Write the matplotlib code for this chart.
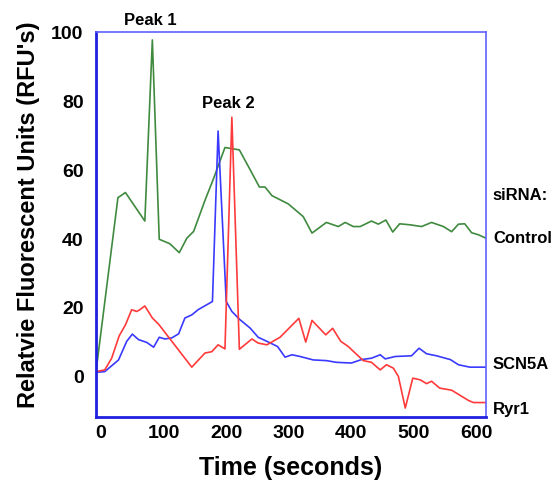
import numpy as np
import matplotlib
matplotlib.use("Agg")
import matplotlib.pyplot as plt

plt.rcParams['font.family'] = ['Liberation Sans', 'DejaVu Sans']
plt.rcParams['font.weight'] = 'bold'

# Control (green)
t_control = [-8, 27, 39, 70, 82, 93, 110, 125, 137, 148, 166, 179, 198, 221, 238, 253, 262, 273,
             299, 323, 337, 360, 379, 390, 403, 414, 432, 443, 455, 466, 477, 494, 512, 528,
             547, 560, 571, 581, 592, 603, 615]
control = [1.2, 51.8, 53.3, 45, 97.7, 39.7, 38.4, 35.8, 40, 42, 51, 57, 66.4, 65.7, 60, 54.9, 54.9, 52.4,
           50, 46.3, 41.5, 44.6, 43.4, 44.6, 43.4, 43.4, 45, 44.1, 45.3, 41.8, 44.2, 43.9, 43.4, 44.6,
           43.4, 41.9, 44.1, 44.2, 41.6, 41, 40]

# SCN5A (blue)
t_scn5a = [-8, 6, 28, 41, 50, 60, 73, 84, 93, 102, 113, 124, 134, 145, 155, 178, 187, 200,
           209, 222, 238, 251, 265, 282, 294, 305, 318, 339, 360, 376, 400, 416, 432, 446,
           454, 470, 496, 508, 520, 536, 558, 571, 589, 615]
scn5a = [1, 1.2, 4.6, 10, 12.1, 10.5, 9.7, 8.3, 11.2, 10.7, 11, 12.2, 16.8, 17.7, 19.2, 21.6, 71.2, 21.6,
         18.7, 16.3, 13.9, 11.2, 10, 8.5, 5.4, 6.1, 5.6, 4.6, 4.4, 3.9, 3.7, 4.7, 5.1, 6.1,
         4.9, 5.6, 5.8, 8, 6.4, 5.8, 4.7, 3.2, 2.5, 2.5]

# Ryr1 (red)
t_ryr1 = [-8, 6, 17, 29, 39, 49, 57, 62, 70, 82, 92, 145, 166, 177, 187, 198, 209, 221,
          241, 251, 265, 286, 316, 327, 337, 359, 370, 383, 395, 406, 419, 432, 446, 456,
          467, 475, 486, 498, 510, 520, 528, 541, 560, 587, 595, 615]
ryr1 = [1.2, 1.7, 5.1, 11.6, 14.8, 19.2, 18.7, 19.2, 20.3, 16.8, 15, 2.5, 6.6, 7, 9, 7.8, 75.2, 7.7,
        10.7, 9.5, 9, 11.2, 16.7, 9.8, 16.1, 11.9, 13.8, 10, 8.5, 6.6, 4.4, 3.9, 1.7, 3.2,
        2.2, -0.2, -9.4, -0.7, -1.2, -2.3, -1.6, -3.6, -4.2, -7.2, -7.8, -7.8]

xticks = [0, 100, 200, 300, 400, 500, 600]
yticks = [0, 20, 40, 60, 80, 100]

fig = plt.figure(figsize=(5.54, 4.81), dpi=100)
ax = fig.add_axes([0.1733, 0.131, 0.704, 0.8004])

ax.plot(t_control, control, color='#3f8a3f', lw=1.2)
ax.plot(t_scn5a, scn5a, color='#3a3aff', lw=1.2)
ax.plot(t_ryr1, ryr1, color='#ff3a3a', lw=1.2)

ax.set_xlim(-8, 615)
ax.set_ylim(-12, 99.7)
ax.set_xticks(xticks)
ax.set_yticks(yticks)
ax.tick_params(length=0, labelsize=14)
ax.tick_params(axis='y', pad=9)
ax.tick_params(axis='x', pad=5)
for lab in ax.get_xticklabels() + ax.get_yticklabels():
    lab.set_fontweight('bold')

for side in ['left', 'bottom']:
    ax.spines[side].set_color('#2020e0')
    ax.spines[side].set_linewidth(2)
for side in ['top', 'right']:
    ax.spines[side].set_color('#6060ff')
    ax.spines[side].set_linewidth(1.2)

ax.set_xlabel('Time (seconds)', fontsize=18, fontweight='bold')
ax.set_ylabel("Relatvie Fluorescent Units (RFU's)", fontsize=17, fontweight='bold')
ax.xaxis.set_label_coords(0.5, -0.098)
ax.yaxis.set_label_coords(-0.143, 0.527)

ax.text(78, 103.5, 'Peak 1', ha='center', va='center', fontsize=12, fontweight='bold')
ax.text(203, 79.4, 'Peak 2', ha='center', va='center', fontsize=12, fontweight='bold')

ax.text(626, 52.6, 'siRNA:', ha='left', va='center', fontsize=12, fontweight='bold')
ax.text(626, 40.1, 'Control', ha='left', va='center', fontsize=12, fontweight='bold')
ax.text(626, 3.5, 'SCN5A', ha='left', va='center', fontsize=12, fontweight='bold')
ax.text(626, -9.6, 'Ryr1', ha='left', va='center', fontsize=12, fontweight='bold')

fig.savefig('out.png', dpi=100)
